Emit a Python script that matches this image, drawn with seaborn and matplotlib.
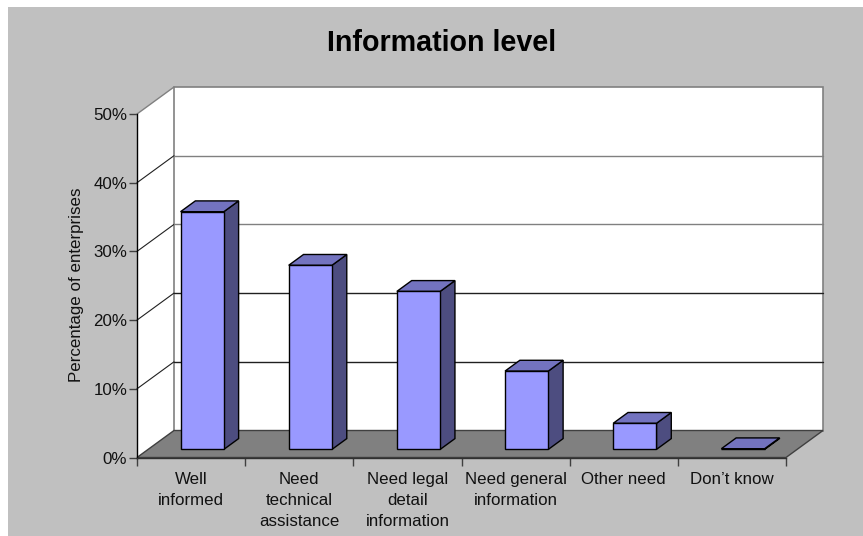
import matplotlib
matplotlib.use('Agg')
import matplotlib.pyplot as plt
import seaborn as sns
from matplotlib.patches import Polygon, Rectangle

categories = ['Well\ninformed', 'Need\ntechnical\nassistance', 'Need legal\ndetail\ninformation',
              'Need general\ninformation', 'Other need', 'Don\u2019t know']
values = [34.6, 26.8, 23.0, 11.4, 3.8, 0.1]
y_ticks = [0, 10, 20, 30, 40, 50]
y_tick_labels = ['0%', '10%', '20%', '30%', '40%', '50%']

BACKGROUND = '#C0C0C0'
FLOOR = '#808080'
FRONT = '#9999FF'
SIDE = '#4D4D80'
TOP = '#7373BF'
LABEL_SIZE = 12.2

# size of the fake 3d depth, in data units
DEPTH_X = 0.342
DEPTH_Y = 3.93

sns.set_theme(style='white')
plt.rcParams['font.family'] = ['Liberation Sans', 'DejaVu Sans']

fig = plt.figure(figsize=(8.63, 5.36), dpi=100, facecolor='white')
fig.add_artist(Rectangle((8 / 863, 0), 855 / 863, 1 - 7 / 536, transform=fig.transFigure,
                         color=BACKGROUND, lw=0, zorder=-10))

ax = fig.add_axes([137 / 863, 1 - 457.5 / 536, 649 / 863, 343.5 / 536])
ax.patch.set_visible(False)

sns.barplot(x=list(range(len(values))), y=values, color=FRONT, saturation=1, width=0.4,
            edgecolor='black', linewidth=1, ax=ax, zorder=3)
ax.set_xlim(-0.5, 5.5)
ax.set_ylim(0, 50)
bars = list(ax.patches)


def add_poly(points, **kwargs):
    ax.add_patch(Polygon(points, closed=True, clip_on=False, **kwargs))


# walls and floor
add_poly([(-0.5, 0), (-0.5 + DEPTH_X, DEPTH_Y), (-0.5 + DEPTH_X, 50 + DEPTH_Y), (-0.5, 50)],
         facecolor='white', edgecolor='none', zorder=0.5)
add_poly([(-0.5 + DEPTH_X, DEPTH_Y), (5.5 + DEPTH_X, DEPTH_Y), (5.5 + DEPTH_X, 50 + DEPTH_Y), (-0.5 + DEPTH_X, 50 + DEPTH_Y)],
         facecolor='white', edgecolor=FLOOR, linewidth=1.2, zorder=0.6)
add_poly([(-0.5, 0), (5.5, 0), (5.5 + DEPTH_X, DEPTH_Y), (-0.5 + DEPTH_X, DEPTH_Y)],
         facecolor=FLOOR, edgecolor='#404040', linewidth=1, zorder=0.8)

for tick in y_ticks[1:-1]:
    back_color = '#202020' if tick < 30 else FLOOR
    ax.plot([-0.5, -0.5 + DEPTH_X], [tick, tick + DEPTH_Y], color='#202020', lw=0.8, clip_on=False, zorder=0.7)
    ax.plot([-0.5 + DEPTH_X, 5.5 + DEPTH_X], [tick + DEPTH_Y, tick + DEPTH_Y], color=back_color, lw=1, clip_on=False, zorder=0.7)
ax.plot([-0.5, -0.5 + DEPTH_X], [50, 50 + DEPTH_Y], color=FLOOR, lw=1, clip_on=False, zorder=0.7)

# move the seaborn bars into the middle of the floor and give them depth
for bar in bars:
    bar.set_x(bar.get_x() + 0.3 * DEPTH_X)
    bar.set_y(bar.get_y() + 0.3 * DEPTH_Y)
    x0, x1 = bar.get_x(), bar.get_x() + bar.get_width()
    y0, y1 = bar.get_y(), bar.get_y() + bar.get_height()
    dx, dy = 0.4 * DEPTH_X, 0.4 * DEPTH_Y
    add_poly([(x1, y0), (x1 + dx, y0 + dy), (x1 + dx, y1 + dy), (x1, y1)],
             facecolor=SIDE, edgecolor='black', linewidth=1, zorder=2.9)
    add_poly([(x0, y1), (x1, y1), (x1 + dx, y1 + dy), (x0 + dx, y1 + dy)],
             facecolor=TOP, edgecolor='black', linewidth=1, zorder=2.9)

ax.set_ylim(0, 50)
ax.set_yticks(y_ticks)
ax.set_yticklabels(y_tick_labels, fontsize=LABEL_SIZE, color='#111111')
ax.set_xticks(range(len(categories)))
ax.set_xticklabels(categories, fontsize=LABEL_SIZE, color='#111111', linespacing=1.47)
ax.set_xticks([i - 0.5 for i in range(len(categories) + 1)], minor=True)
ax.tick_params(axis='x', which='major', length=0, pad=10.7)
ax.tick_params(axis='x', which='minor', length=6, width=1, color='#404040', bottom=True)
ax.tick_params(axis='y', length=6, width=1, color='#404040', left=True, pad=1)

for side in ['top', 'right']:
    ax.spines[side].set_visible(False)
ax.spines['left'].set_color('black')
ax.spines['bottom'].set_color('#303030')
for side in ['left', 'bottom']:
    ax.spines[side].set_linewidth(1)

ax.set_ylabel('Percentage of enterprises', fontsize=LABEL_SIZE, color='#111111')
ax.yaxis.set_label_coords(-53 / 649, 0.5 + (457.5 - 285 - 171.75) / 343.5)

fig.text(441.5 / 863, 1 - 43 / 536, 'Information level', fontsize=20.6, fontweight='bold',
         color='black', ha='center', va='center')

fig.savefig('out.png', dpi=100, facecolor=fig.get_facecolor())
